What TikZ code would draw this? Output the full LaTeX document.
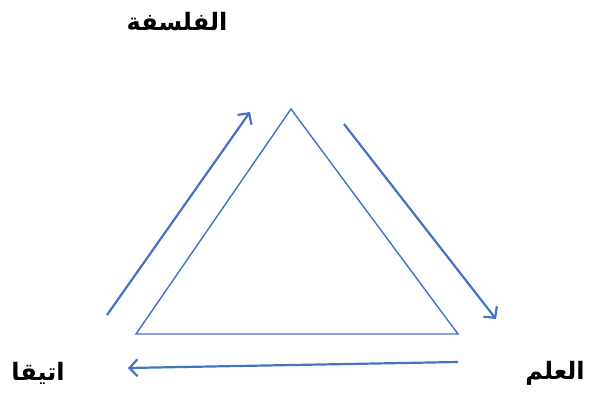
\documentclass[tikz,border=0pt]{standalone}
\usepackage{fontspec}
\usetikzlibrary{arrows.meta}
\TeXXeTstate=1
\newfontfamily\arabicfont[Script=Arabic]{DejaVu Sans}
\definecolor{EdgeBlue}{HTML}{4472C4}

\begin{document}
\begin{tikzpicture}[
      x=1pt,y=-1pt,
      label/.style={font=\arabicfont\bfseries\fontsize{24}{28}\selectfont,inner sep=0pt},
      side/.style={draw=EdgeBlue,line width=1.4pt},
      flow/.style={-{Straight Barb[length=8pt,width=17pt]},draw=EdgeBlue,line width=2.2pt}
    ]
      \useasboundingbox (0,0) rectangle (590,394);
      % triangle corners
      \coordinate (top) at (291,109);
      \coordinate (left) at (136,334);
      \coordinate (right) at (458,334);
      \draw[side] (top) -- (right) -- (left) -- cycle;
      % labels
      \node[label] (philo) at (177,22) {\beginR الفلسفة\endR};
      \node[label] (science) at (555,373) {\beginR العلم\endR};
      \node[label] (ethics) at (38,373) {\beginR اتيقا\endR};
      % arrow ends
      \coordinate (a1) at (107,315);
      \coordinate (b1) at (250,112);
      \coordinate (a2) at (344,124);
      \coordinate (b2) at (496,319);
      \coordinate (a3) at (458,362);
      \coordinate (b3) at (128,368);
      \draw[flow] (a1) -- (b1);
      \draw[flow] (a2) -- (b2);
      \draw[flow] (a3) -- (b3);
    \end{tikzpicture}
\end{document}
